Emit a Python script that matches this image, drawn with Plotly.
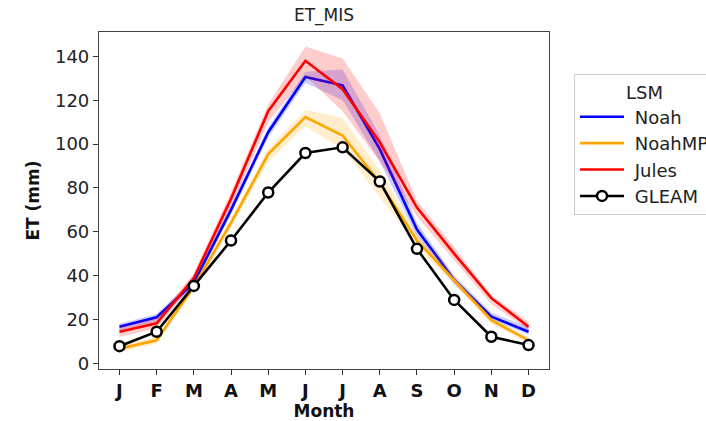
import plotly.graph_objects as go

months = ["J", "F", "M", "A", "M", "J", "J", "A", "S", "O", "N", "D"]
month_idx = list(range(12))

noah = [16.7, 21.0, 36.7, 70.0, 105.4, 130.6, 126.8, 97.7, 61.0, 38.0, 21.3, 14.4]
noah_lo = [15.0, 19.0, 35.0, 68.0, 103.0, 128.0, 120.0, 92.0, 58.0, 36.0, 20.0, 13.0]
noah_hi = [18.0, 22.5, 38.5, 72.0, 107.5, 133.0, 134.0, 104.0, 64.0, 40.0, 23.0, 16.5]

noahmp = [6.7, 10.5, 35.0, 64.0, 95.4, 112.3, 103.9, 82.5, 56.0, 38.0, 19.7, 10.5]
noahmp_lo = [5.0, 9.0, 33.0, 62.0, 92.0, 108.0, 98.0, 76.0, 53.0, 36.0, 18.0, 9.0]
noahmp_hi = [8.0, 12.0, 37.0, 66.0, 98.0, 115.5, 112.0, 88.0, 59.0, 40.0, 21.0, 12.0]

jules = [14.4, 18.2, 38.9, 75.0, 115.0, 138.0, 125.0, 100.8, 71.0, 50.0, 29.7, 16.7]
jules_lo = [12.0, 16.0, 37.0, 71.0, 110.0, 131.0, 115.0, 92.0, 67.0, 47.0, 27.0, 15.0]
jules_hi = [16.5, 20.5, 41.0, 78.0, 118.0, 144.5, 139.0, 114.0, 74.0, 53.0, 31.0, 19.0]

gleam = [7.8, 14.4, 35.3, 56.0, 77.9, 95.9, 98.5, 82.9, 52.2, 28.9, 12.1, 8.3]

series = [
    ("Noah", noah, noah_lo, noah_hi, "#0000ff", "rgba(0,0,255,0.2)"),
    ("NoahMP", noahmp, noahmp_lo, noahmp_hi, "#ffa500", "rgba(255,165,0,0.2)"),
    ("Jules", jules, jules_lo, jules_hi, "#ff0000", "rgba(255,0,0,0.2)"),
]

FONT = "DejaVu Sans"
FS = 18
fig = go.Figure()

for name, mean, lo, hi, col, fillcol in series:
    fig.add_trace(go.Scatter(
        x=month_idx + month_idx[::-1],
        y=hi + lo[::-1],
        fill="toself", fillcolor=fillcol,
        line=dict(width=0), mode="lines",
        showlegend=False, hoverinfo="skip",
    ))
    fig.add_trace(go.Scatter(
        x=month_idx, y=mean, mode="lines", name="\u00a0" + name,
        line=dict(color=col, width=2.6),
    ))

fig.add_trace(go.Scatter(
    x=month_idx, y=gleam, mode="lines+markers", name="\u00a0GLEAM",
    line=dict(color="black", width=2.6),
    marker=dict(size=10, color="white", line=dict(color="black", width=2.5)),
))

fig.update_layout(
    width=706, height=421,
    margin=dict(l=99, r=157, t=32, b=52, autoexpand=False),
    paper_bgcolor="white", plot_bgcolor="white",
    font=dict(family=FONT, size=FS, color="#222"),
    title=dict(text="ET_MIS", x=0.4589, xanchor="center", y=1 - 15 / 421,
               yanchor="middle", yref="container", font=dict(size=FS - 1, color="#222")),
    showlegend=True,
    legend=dict(
        x=1.0556, xanchor="left", y=0.875, yanchor="top",
        bordercolor="#cccccc", borderwidth=1, bgcolor="white",
        title=dict(text="LSM", side="top center", font=dict(size=FS)),
        font=dict(size=FS), tracegroupgap=0, itemwidth=44,
    ),
)

fig.update_xaxes(
    range=[-0.55, 11.55], tickmode="array", tickvals=month_idx, ticktext=months,
    tickfont=dict(family=FONT, size=FS, weight="bold", color="#111"),
    ticks="outside", ticklen=5, tickcolor="#333", tickwidth=1,
    showline=True, linecolor="#444", linewidth=1.2, mirror=True,
    showgrid=False, zeroline=False,
    title=dict(text="Month", font=dict(family=FONT, size=FS - 1, weight="bold", color="#111"), standoff=6),
)
fig.update_yaxes(
    range=[-2.6, 151.1], tickmode="array", tickvals=[0, 20, 40, 60, 80, 100, 120, 140],
    tickfont=dict(family=FONT, size=FS, color="#222"),
    ticks="outside", ticklen=5, tickcolor="#333", tickwidth=1,
    showline=True, linecolor="#444", linewidth=1.2, mirror=True,
    showgrid=False, zeroline=False,
    title=dict(text="ET (mm)", font=dict(family=FONT, size=FS - 1, weight="bold", color="#111"), standoff=10),
)

fig.write_html("out.html")
